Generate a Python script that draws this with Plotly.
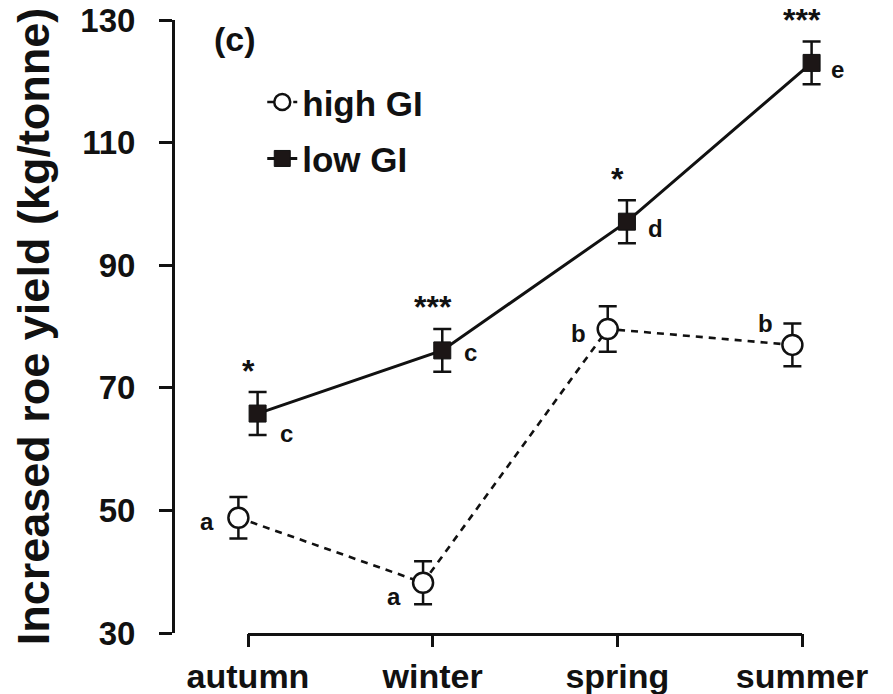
import numpy as np
import plotly.graph_objects as go

# ---------------- data ----------------
seasons = ["autumn", "winter", "spring", "summer"]
high_gi = [48.8, 38.2, 79.6, 77.0]
high_gi_err = [3.4, 3.5, 3.7, 3.5]
high_gi_letters = ["a", "a", "b", "b"]
low_gi = [65.8, 76.1, 97.1, 123.0]
low_gi_err = [3.5, 3.5, 3.5, 3.5]
low_gi_letters = ["c", "c", "d", "e"]
significance = ["*", "***", "*", "***"]
y_ticks = [30, 50, 70, 90, 110, 130]
panel_label = "(c)"
y_title = "Increased roe yield (kg/tonne)"

# ---------------- styling / placement ----------------
FONT = "Liberation Sans, Arial, Helvetica, sans-serif"
INK = "#111111"
idx = np.arange(len(seasons))
dodge = 0.052
# pixel shifts (dx, dy up) of the letter labels relative to their points
low_letter_shift = [(29, -20), (28, -2), (29, -7), (26, -7)]
high_letter_shift = [(-31, -4), (-29, -14), (-29, -5), (-27, 21)]

fig = go.Figure()

fig.add_trace(go.Scatter(
    x=idx - dodge, y=high_gi, name="high GI", mode="lines+markers",
    legendgroup="h",
    line=dict(color=INK, width=2.6, dash="7px,6px"),
    marker=dict(symbol="circle", size=20, color="white",
                line=dict(color=INK, width=2.5)),
    error_y=dict(type="data", array=high_gi_err, visible=True,
                 color=INK, thickness=2.5, width=9),
    cliponaxis=False,
))
fig.add_trace(go.Scatter(
    x=idx + dodge, y=low_gi, name="low GI", mode="lines+markers",
    legendgroup="l",
    line=dict(color=INK, width=3),
    marker=dict(symbol="square", size=17, color="#1c1616",
                line=dict(color=INK, width=1)),
    error_y=dict(type="data", array=low_gi_err, visible=True,
                 color=INK, thickness=2.5, width=9),
    cliponaxis=False,
))

annotations = []
for i in range(len(seasons)):
    dx, dy = low_letter_shift[i]
    annotations.append(dict(x=idx[i] + dodge, y=low_gi[i], xref="x", yref="y",
                            text=low_gi_letters[i], showarrow=False,
                            xshift=dx, yshift=dy,
                            font=dict(family=FONT, size=24, color=INK, weight="bold")))
    dx, dy = high_letter_shift[i]
    annotations.append(dict(x=idx[i] - dodge, y=high_gi[i], xref="x", yref="y",
                            text=high_gi_letters[i], showarrow=False,
                            xshift=dx, yshift=dy,
                            font=dict(family=FONT, size=24, color=INK, weight="bold")))
    annotations.append(dict(x=idx[i], y=low_gi[i], xref="x", yref="y",
                            text=significance[i], showarrow=False,
                            yshift=43,
                            font=dict(family=FONT, size=32, color=INK, weight="bold")))
annotations.append(dict(x=0.086, y=0.969, xref="paper", yref="paper",
                        xanchor="center", yanchor="middle",
                        text=panel_label, showarrow=False,
                        font=dict(family=FONT, size=34, color=INK, weight="bold")))

shapes = [dict(type="line", xref="x", yref="paper",
               x0=idx[0], x1=idx[-1], y0=-0.0024, y1=-0.0024,
               line=dict(color=INK, width=3))]

# the page adds an 8px body margin, so the figure is sized to fit inside it
fig.update_layout(
    width=885, height=686,
    margin=dict(l=167, r=20, t=12, b=61),
    paper_bgcolor="white", plot_bgcolor="white",
    font=dict(family=FONT, color=INK),
    showlegend=True,
    legend=dict(x=0.125, y=0.914, xanchor="left", yanchor="top",
                bgcolor="rgba(0,0,0,0)", tracegroupgap=8,
                font=dict(family=FONT, size=35, color=INK, weight="bold")),
    annotations=annotations,
    shapes=shapes,
    xaxis=dict(range=[-0.3953, 3.3845], tickvals=idx, ticktext=seasons,
               automargin=False,
               showgrid=False, zeroline=False, showline=False,
               ticks="outside", ticklen=13, tickwidth=3, tickcolor=INK,
               tickfont=dict(family=FONT, size=34, color=INK, weight="bold")),
    yaxis=dict(range=[30, 130], tickvals=y_ticks, automargin=False,
               showgrid=False, zeroline=False, showline=True,
               linewidth=3, linecolor=INK,
               ticks="outside", ticklen=13, tickwidth=3, tickcolor=INK,
               ticklabelstandoff=17, ticklabeloverflow="allow",
               tickfont=dict(family=FONT, size=33, color=INK, weight="bold"),
               title=dict(text=y_title, standoff=18,
                          font=dict(family=FONT, size=45, color=INK, weight="bold"))),
)

fig.write_html("out.html")
